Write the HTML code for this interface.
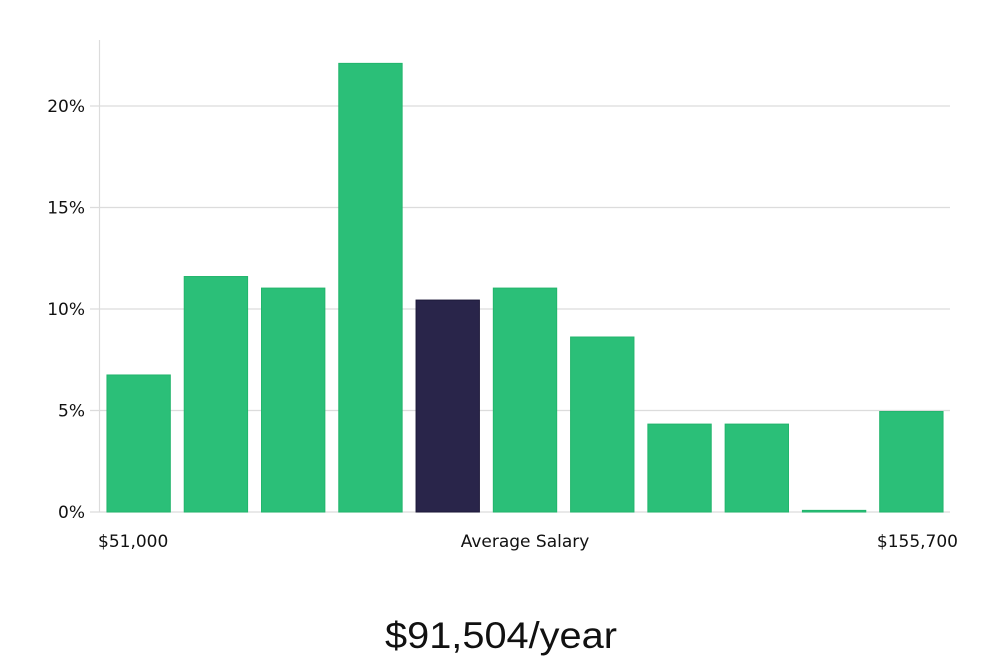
<!DOCTYPE html>
<html><head><meta charset="utf-8"><style>
html,body{margin:0;padding:0;background:#fff;width:1000px;height:660px;overflow:hidden}
svg text{font-family:"DejaVu Sans","Liberation Sans",sans-serif;fill:#111}
</style></head><body>
<svg id="chart" width="1000" height="660" xmlns="http://www.w3.org/2000/svg">
<g id="grid"></g><g id="bars"></g><g id="axes"></g>
<text x="98" y="547" font-size="17">$51,000</text>
<text x="525" y="547" font-size="17" text-anchor="middle">Average Salary</text>
<text x="958" y="547" font-size="17" text-anchor="end">$155,700</text>
<text x="501" y="648" font-size="37" text-anchor="middle" textLength="232" lengthAdjust="spacingAndGlyphs" style="font-family:'Liberation Sans',sans-serif;font-weight:300">$91,504/year</text>
</svg>
<script>
const categories=["b1","b2","b3","b4","b5","b6","b7","b8","b9","b10","b11"];
const values=[6.75,11.6,11.03,22.1,10.44,11.03,8.62,4.33,4.33,0.08,4.95];
const highlightIndex=4;
const yTicks=[0,5,10,15,20];
const yTickLabels=["0%","5%","10%","15%","20%"];
const NS="http://www.w3.org/2000/svg";
const x0=100,x1=950,yBase=512,pxPer=20.3;
const band=(x1-x0)/categories.length,pad=0.18;
function y(v){return yBase-v*pxPer;}
function xb(i){return x0+i*band+band*pad/2;}
function mk(t,a,p){const e=document.createElementNS(NS,t);for(const k in a)e.setAttribute(k,a[k]);p.appendChild(e);return e;}
const grid=document.getElementById('grid'),bars=document.getElementById('bars'),axes=document.getElementById('axes');
yTicks.forEach((t,i)=>{
 const l=mk('line',{x1:90,x2:x1,y1:y(t),y2:y(t),stroke:'#dcdcdc','stroke-width':1.2},grid);
 
 
 const tx=mk('text',{x:85,y:y(t)+6,'font-size':17,'text-anchor':'end'},axes);
 tx.textContent=yTickLabels[i];
 
 
});
const ax=mk('line',{x1:99.5,x2:99.5,y1:40,y2:yBase,stroke:'#dcdcdc','stroke-width':1.2},axes);


values.forEach((v,i)=>{
 const hl=i===highlightIndex;
 const h=Math.max(v*pxPer,1);
 const r=mk('rect',{x:xb(i),y:yBase-h,width:band*(1-pad),height:h,fill:hl?'#29254a':'#2bbf78',stroke:hl?'#1c1838':'#22b56c','stroke-width':1},bars);
 
 
});
</script>
</body></html>
